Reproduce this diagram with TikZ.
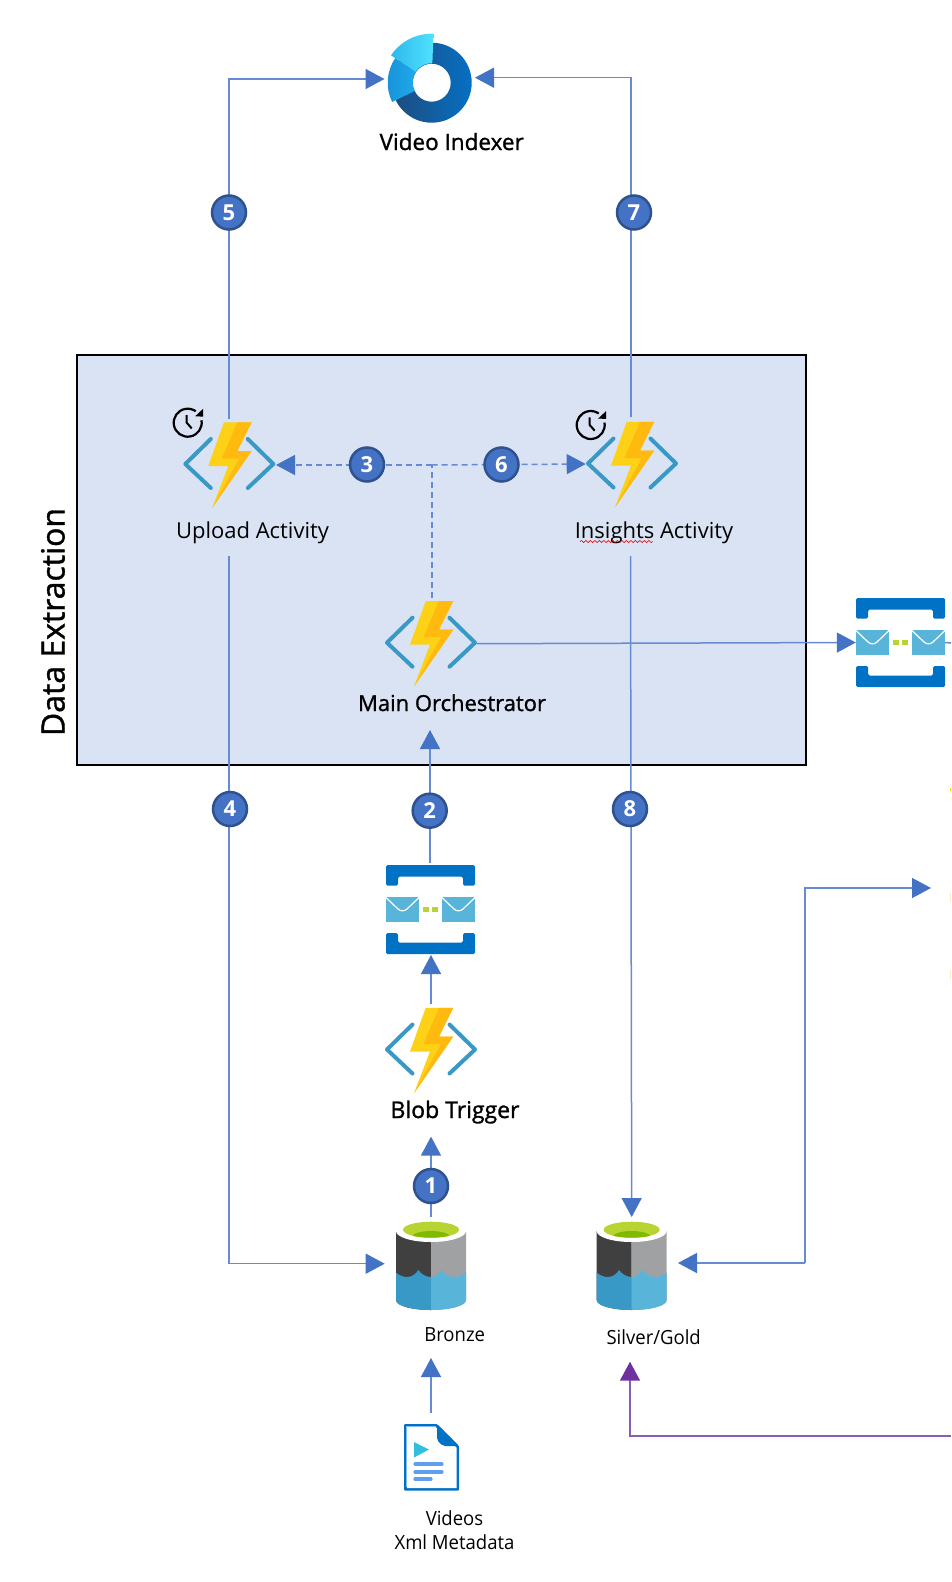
\documentclass[tikz,border=0pt]{standalone}
\usepackage{fontspec}
\setmainfont{Open Sans}
\newfontfamily\regf{Open Sans}
\newfontfamily\smallf[FakeStretch=0.95]{Open Sans}
\newfontfamily\medf[FakeBold=1.2]{Open Sans}
\newfontfamily\numf{Open Sans Bold}
\usetikzlibrary{arrows.meta,decorations.pathmorphing}
\definecolor{conncol}{HTML}{668AD4}
\definecolor{headcol}{HTML}{4472C4}
\definecolor{ringcol}{HTML}{2F528F}
\definecolor{boxfill}{HTML}{DAE3F3}
\definecolor{purpleline}{HTML}{8A5CB8}
\definecolor{purplehead}{HTML}{7030A0}
\definecolor{chev}{HTML}{3999C6}
\definecolor{boltA}{HTML}{FCD116}
\definecolor{boltB}{HTML}{FFB90F}
\definecolor{qblue}{HTML}{0072C6}
\definecolor{envel}{HTML}{59B4D9}
\definecolor{qgreen}{HTML}{B8D432}
\definecolor{dgreen}{HTML}{7FBA00}
\definecolor{sdark}{HTML}{404040}
\definecolor{sgrey}{HTML}{A0A1A2}
\definecolor{wdark}{HTML}{3999C6}
\tikzset{
  x=1pt,y=-1pt,
  conn/.style={draw=conncol,line width=1.5pt,-{Triangle[length=19pt,width=20pt,color=headcol]}},
  plainconn/.style={draw=conncol,line width=1.5pt},
  dashconn/.style={conn,dash pattern=on 6pt off 4pt},
  thickdash/.style={draw=conncol,line width=2.2pt,dash pattern=on 6pt off 4pt},
  purpleconn/.style={draw=purpleline,line width=1.5pt,-{Triangle[length=19pt,width=20pt,color=purplehead]}},
  numdot/.style={circle,draw=ringcol,line width=2.5pt,fill=headcol,minimum size=34pt,inner sep=0pt,text=white,font=\numf\fontsize{22}{26}\selectfont},
  lbl/.style={anchor=base,inner sep=0pt,font=\regf\fontsize{22}{26}\selectfont,text=black},
  smalllbl/.style={anchor=base,inner sep=0pt,font=\smallf\fontsize{19.5}{24}\selectfont,text=black},
  fnbox/.style={minimum width=92pt,minimum height=86pt,inner sep=0pt},
  qbox/.style={minimum width=89pt,minimum height=89pt,inner sep=0pt},
  stbox/.style={minimum width=70pt,minimum height=90pt,inner sep=0pt},
  filebox/.style={minimum width=55pt,minimum height=67pt,inner sep=0pt},
}
\newcommand{\fnicon}[2]{%
\begin{scope}[shift={(#1,#2)}]
 \draw[chev,line width=4pt,line cap=round,line join=round] (-18.5,-25)--(-44,0)--(-18.5,24);
 \draw[chev,line width=4pt,line cap=round,line join=round] (18.5,-25)--(44,0)--(18.5,24);
 \fill[boltA] (-5.3,-41.7)--(22.3,-41.7)--(8,-13)--(22.3,-13)--(-17,43.7)--(-1,2)--(-21,2)--cycle;
 \fill[boltB] (8,-41.7)--(22.3,-41.7)--(8,-13)--(22.3,-13)--(-17,43.7)--(10,-5.5)--(-7.5,-5.5)--cycle;
\end{scope}}
\newcommand{\clockicon}[2]{%
\begin{scope}[shift={(#1,#2)}]
 \draw[black,line width=2.2pt] (10:14pt) arc[start angle=10,end angle=-305,radius=14pt];
 \fill[black] (15.5,-14)--(15.5,-6)--(7.5,-6.5)--cycle;
 \draw[black,line width=2pt,line join=miter] (-1,-7.7)--(-1,0)--(4,5.7);
\end{scope}}
\newcommand{\queueicon}[2]{%
\begin{scope}[shift={(#1,#2)}]
 \fill[qblue,rounded corners=1.5pt] (0,0)--(89,0)--(89,20.7)--(77,20.7)--(77,11.7)--(12,11.7)--(12,20.7)--(0,20.7)--cycle;
 \fill[qblue,rounded corners=1.5pt] (0,89)--(89,89)--(89,68)--(77,68)--(77,77.5)--(12,77.5)--(12,68)--(0,68)--cycle;
 \fill[envel] (0,31.7) rectangle (33,56.7);
 \fill[envel] (56,31.7) rectangle (89,56.7);
 \draw[white,line width=1.2pt] (0,32.5)--(12,44) .. controls (15,46.5) and (18,46.5) .. (21,44)--(33,32.5);
 \draw[white,line width=1.2pt] (56,32.5)--(68,44) .. controls (71,46.5) and (74,46.5) .. (77,44)--(89,32.5);
 \fill[qgreen] (37.3,42) rectangle (43.3,46.7);
 \fill[qgreen] (46,42) rectangle (52,46.7);
\end{scope}}
\newcommand{\storeicon}[2]{%
\begin{scope}[shift={(#1,#2)}]
 \fill[sdark] (-35,0)--(-35,69) .. controls (-35,75) and (-18,79) .. (0,79)--(0,0)--cycle;
 \fill[sgrey] (35,0)--(35,69) .. controls (35,75) and (18,79) .. (0,79)--(0,0)--cycle;
 \fill[wdark] (-35,41.7) .. controls (-31,44.5) and (-28,46) .. (-24,46) .. controls (-19,46) and (-15,43) .. (-12.7,39) .. controls (-10,43) and (-5,46) .. (0,46)--(0,79) .. controls (-18,79) and (-35,75) .. (-35,69)--cycle;
 \fill[envel] (35,41.7) .. controls (31,44.5) and (27,46) .. (23,46) .. controls (18,46) and (13,43) .. (10.7,39) .. controls (8,43) and (4,46) .. (0,46)--(0,79) .. controls (18,79) and (35,75) .. (35,69)--cycle;
 \fill[white] (0,0) ellipse [x radius=35pt,y radius=11pt];
 \begin{scope}
  \clip (0,-1.3) ellipse [x radius=28pt,y radius=8pt];
  \fill[qgreen] (-30,-12) rectangle (30,10);
  \fill[dgreen] (0,6) ellipse [x radius=19pt,y radius=6pt];
 \end{scope}
\end{scope}}
\begin{document}
\begin{tikzpicture}
\useasboundingbox (0,0) rectangle (951,1582);
\fill[white] (0,0) rectangle (951,1582);
% container
\node[draw=black,line width=2pt,fill=boxfill,minimum width=729pt,minimum height=410pt,inner sep=0pt] (extract) at (441.5,560) {};
\node[lbl,rotate=90,font=\medf\fontsize{32}{38}\selectfont] (extractlbl) at (64.5,622) {Data Extraction};
% icon anchors
\node[fnbox] (upload) at (229.3,464) {};
\node[fnbox] (insights) at (632,463.5) {};
\node[fnbox] (orch) at (431,642.7) {};
\node[fnbox] (blob) at (431,1049.5) {};
\node[qbox] (q1) at (430.5,909.5) {};
\node[qbox] (q2) at (900.5,642.5) {};
\node[stbox] (bronze) at (431,1265) {};
\node[stbox] (silver) at (631.7,1265) {};
\node[filebox] (video) at (431.5,1457.5) {};
\node[minimum size=84pt,inner sep=0pt,circle] (vi) at (431.7,82.7) {};
% free ends
\coordinate (e1) at (229,79);
\coordinate (e2) at (631,77.7);
\coordinate (e3) at (805,1263);
\coordinate (e4) at (805,888);
\coordinate (e5) at (931,888);
\coordinate (e6) at (951,643);
\coordinate (e7) at (951,1436);
\coordinate (e8) at (630,1436);
\coordinate (e9) at (630,1361.7);
\coordinate (e10) at (431,1358);
\coordinate (e11) at (431,1136.6);
\coordinate (e12) at (430,730);
\coordinate (e13) at (229,1263.7);
\coordinate (e14) at (229,556);
\coordinate (e15) at (630.5,556);
\coordinate (e16) at (431.7,465);
\coordinate (e17) at (431,1413);
\coordinate (e18) at (431,1003.5);
\coordinate (e19) at (431,955);
\coordinate (e20) at (431.7,598);
% connectors
\draw[conn] (229,419) -- (e1) -- (384.5,79);
\draw[conn] (631,417) -- (e2) -- (475,77.7);
\draw[conn] (e14) -- (e13) -- (384.7,1263.7);
\draw[conn] (e15) -- (631.7,1217);
\draw[dashconn] (e16) -- (276,465);
\draw[thickdash] (e20) -- (e16);
\draw[dashconn] (e16) -- (585.7,464);
\draw[conn] (orch.east) ++(0,1) -- (q2.west);
\draw[plainconn] (q2.east) -- (e6);
\draw[conn] (430,863) -- (e12);
\draw[conn] (e18) -- (e19);
\draw[conn] (431,1217) -- (e11);
\draw[conn] (e17) -- (e10);
\draw[conn] (e3) -- (e4) -- (e5);
\draw[conn] (e3) -- (678,1263);
\draw[purpleconn] (e7) -- (e8) -- (e9);
% icons
\fnicon{229.3}{464}
\fnicon{632}{463.5}
\fnicon{431}{642.7}
\fnicon{431}{1049.5}
\clockicon{187.7}{422.7}
\clockicon{590.7}{425}
\queueicon{386}{865}
\queueicon{856}{598}
\storeicon{431}{1231}
\storeicon{631.7}{1231}
% video indexer
\shade[even odd rule,left color={rgb,255:red,30;green,75;blue,125},right color={rgb,255:red,6;green,112;blue,196}] (vi.center) circle (40pt) (vi.center) circle (19pt);
\shade[left color={rgb,255:red,25;green,145;blue,215},right color={rgb,255:red,30;green,170;blue,235}]
  ([shift={(146:19pt)}]vi.center) arc[start angle=146,end angle=206,radius=19pt] -- ([shift={(206:44pt)}]vi.center) arc[start angle=206,end angle=146,radius=44pt] -- cycle;
\shade[left color={rgb,255:red,45;green,185;blue,235},right color={rgb,255:red,80;green,225;blue,255}]
  ([shift={(88:19.5pt)}]vi.center) arc[start angle=88,end angle=146,radius=19.5pt] -- ([shift={(146:49pt)}]vi.center) arc[start angle=146,end angle=88,radius=49pt] -- cycle;
% file
\begin{scope}[shift={(404,1424)}]
 \fill[qblue,rounded corners=1pt] (0,0)--(33,0)--(55,22)--(55,66.7)--(0,66.7)--cycle;
 \fill[white] (3,3)--(31.5,3)--(52.5,23.5)--(52.5,64)--(3,64)--cycle;
 \draw[color={rgb,255:red,131;green,185;blue,249},line width=1.2pt] (2.5,63)--(2.5,2.5)--(32,2.5);
 \fill[qblue,rounded corners=2pt] (33,0)--(55,22)--(39,22)--(33,16)--cycle;
 \fill[color={rgb,255:red,50;green,190;blue,221}] (10,18)--(25,25.5)--(10,33.5)--cycle;
 \draw[color={rgb,255:red,94;green,160;blue,239},line width=3.2pt,line cap=round] (11,40)--(38,40);
 \draw[color={rgb,255:red,94;green,160;blue,239},line width=3.2pt,line cap=round] (11,48)--(38,48);
 \draw[color={rgb,255:red,94;green,160;blue,239},line width=3.2pt,line cap=round] (11,55)--(27,55);
\end{scope}
% numbered dots
\node[numdot] (n5) at (229,212.5) {5};
\node[numdot] (n7) at (634,212.5) {7};
\node[numdot] (n3) at (367,464.5) {3};
\node[numdot] (n6) at (501.5,464.5) {6};
\node[numdot] (n4) at (230,809) {4};
\node[numdot] (n2) at (429.7,810.7) {2};
\node[numdot] (n8) at (630,809) {8};
\node[numdot] (n1) at (431,1186) {1};
% labels
\node[lbl,font=\medf\fontsize{22.5}{26}\selectfont] (tvi) at (451.7,150) {Video Indexer};
\node[lbl] (tup) at (252.5,538.5) {Upload Activity};
\node[lbl] (tin) at (654,538) {Insights Activity};
\draw[red!85!black,line width=0.6pt,decorate,decoration={snake,segment length=4.5pt,amplitude=1pt}] (580,541.5) -- (652.7,541.5);
\node[lbl,font=\medf\fontsize{22}{26}\selectfont] (tor) at (452,711) {Main Orchestrator};
\node[lbl,font=\medf\fontsize{23}{26}\selectfont] (tbl) at (455,1118) {Blob Trigger};
\node[smalllbl] (tbr) at (454.7,1341) {Bronze};
\node[smalllbl] (tsi) at (653.7,1344) {Silver/Gold};
\node[smalllbl,anchor=center,align=center] (tvd) at (454.5,1530) {Videos\\Xml Metadata};
% cropped remnants at the right edge
\fill[boltA] (950,788) rectangle (951,791);
\fill[boltA!35!white] (950,893) rectangle (951,902);
\fill[boltA!35!white] (950,970) rectangle (951,979);
\end{tikzpicture}
\end{document}
